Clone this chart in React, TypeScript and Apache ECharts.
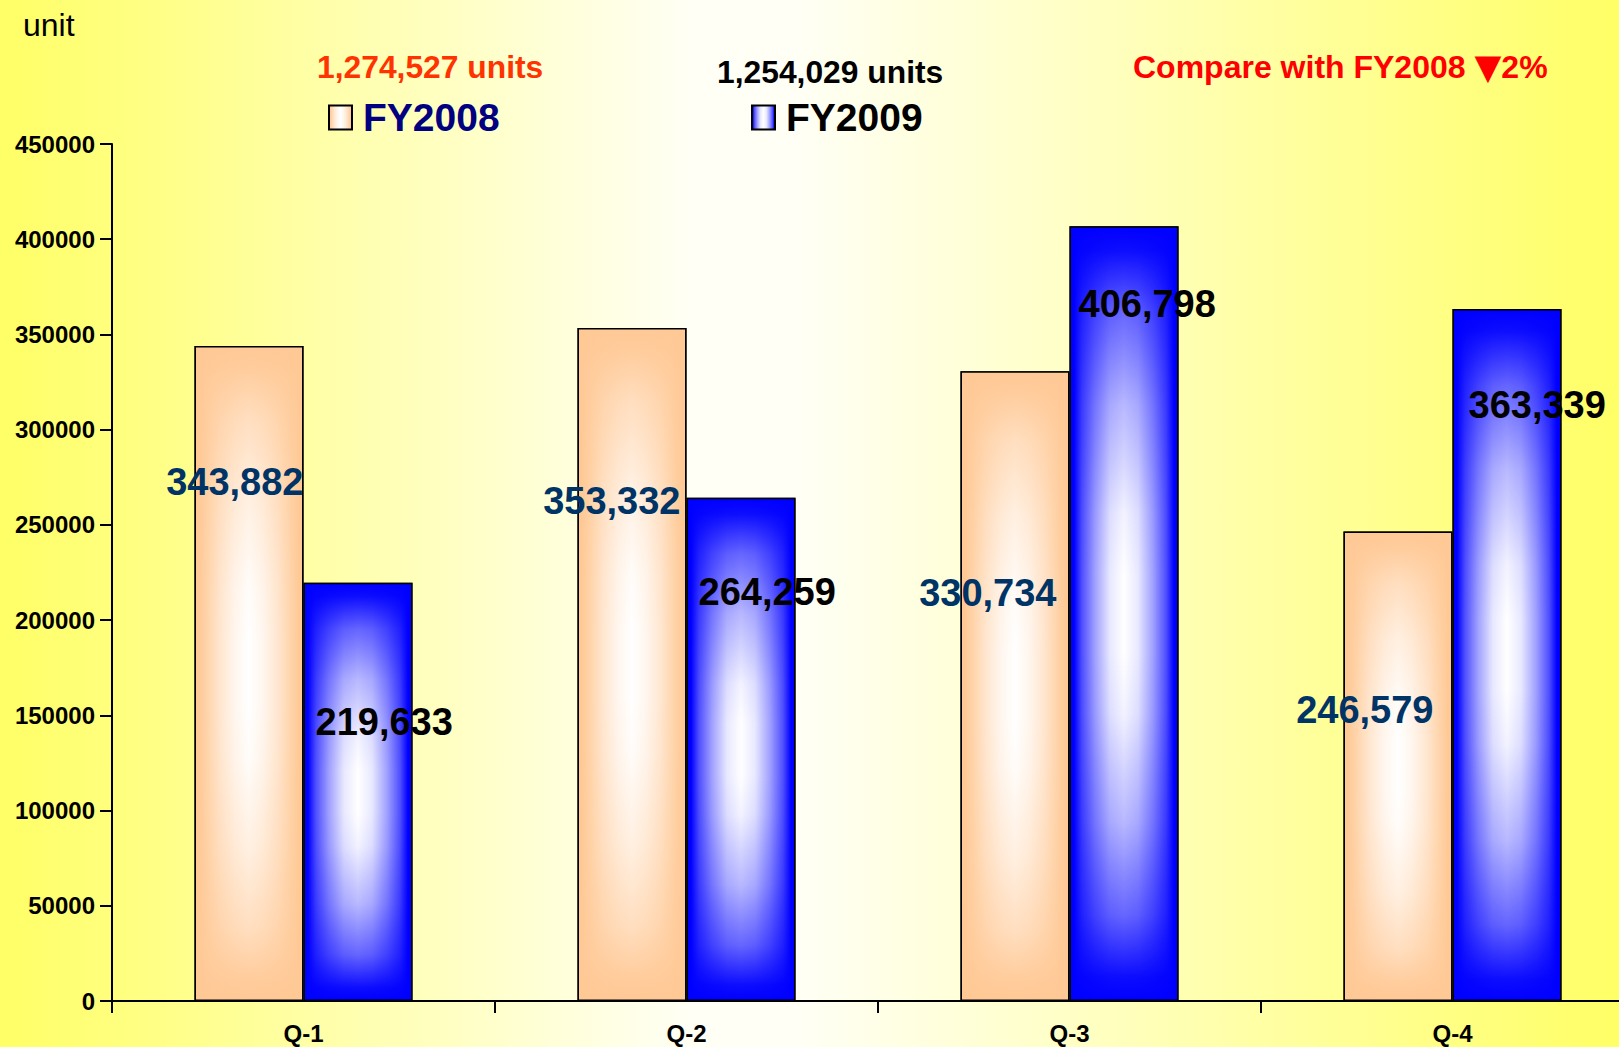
import React, { useEffect, useRef } from 'react';
import * as echarts from 'echarts';

const categories = ['Q-1', 'Q-2', 'Q-3', 'Q-4'];
const seriesNames = ['FY2008', 'FY2009'];
const fy2008 = [343882, 353332, 330734, 246579];
const fy2009 = [219633, 264259, 406798, 363339];
const yMin = 0;
const yMax = 450000;
const yInterval = 50000;
const unitLabel = 'unit';

// label placement (px): distance of label centre below bar top, horizontal nudge
const label2008Dy = [136, 173, 222, 179];
const label2008Dx = [0, -6, -13, -19];
const label2009Dy = [139, 94, 78, 96];
const label2009Dx = [12, 12, 9, 16];

const FONT = '"Liberation Sans", Arial, Helvetica, sans-serif';
const PAGE_W = 1619;
const PAGE_H = 1047;
const CHART_W = 1644; // plot area runs past the right edge of the picture

const fmt = (v: number) => v.toLocaleString('en-US');
const sum = (a: number[]) => a.reduce((s, v) => s + v, 0);

function hexToRgba(hex: string, a: number) {
  const n = parseInt(hex.slice(1), 16);
  return `rgba(${(n >> 16) & 255},${(n >> 8) & 255},${n & 255},${a})`;
}

// horizontal edge -> white -> edge
function horizGradient(edge: string, c1: string, c2: string, c3: string) {
  return new echarts.graphic.LinearGradient(0, 0, 1, 0, [
    { offset: 0, color: edge },
    { offset: 0.035, color: edge },
    { offset: 0.11, color: c1 },
    { offset: 0.23, color: c2 },
    { offset: 0.37, color: c3 },
    { offset: 0.5, color: '#ffffff' },
    { offset: 0.63, color: c3 },
    { offset: 0.77, color: c2 },
    { offset: 0.89, color: c1 },
    { offset: 0.965, color: edge },
    { offset: 1, color: edge },
  ]);
}

// vertical shading: edge colour at top and bottom, clear in the middle
function vertShade(edge: string) {
  return new echarts.graphic.LinearGradient(0, 0, 0, 1, [
    { offset: 0, color: hexToRgba(edge, 1) },
    { offset: 0.03, color: hexToRgba(edge, 0.95) },
    { offset: 0.11, color: hexToRgba(edge, 0.6) },
    { offset: 0.23, color: hexToRgba(edge, 0.28) },
    { offset: 0.37, color: hexToRgba(edge, 0.05) },
    { offset: 0.45, color: hexToRgba(edge, 0) },
    { offset: 0.55, color: hexToRgba(edge, 0) },
    { offset: 0.63, color: hexToRgba(edge, 0.05) },
    { offset: 0.77, color: hexToRgba(edge, 0.28) },
    { offset: 0.89, color: hexToRgba(edge, 0.6) },
    { offset: 0.97, color: hexToRgba(edge, 0.95) },
    { offset: 1, color: hexToRgba(edge, 1) },
  ]);
}

const ORANGE = '#ffc996';
const BLUE = '#0000ff';

export default function App() {
  const ref = useRef<HTMLDivElement>(null);
  useEffect(() => {
    if (!ref.current) return;
    const chart = echarts.init(ref.current, undefined, { renderer: 'svg' });
    const total2008 = sum(fy2008);
    const total2009 = sum(fy2009);
    const change = Math.round((Math.abs(total2009 - total2008) / total2008) * 100);
    const arrow = total2009 < total2008 ? '▼' : '▲';

    const legendCommon = {
      orient: 'horizontal',
      top: 98,
      padding: 0,
      itemWidth: 23,
      itemHeight: 24,
      icon: 'rect',
      selectedMode: false,
      textStyle: { fontSize: 39, fontWeight: 'bold', fontFamily: FONT, padding: [0, 0, 0, 6] },
    };

    const labelCommon = {
      show: true,
      formatter: (p: any) => fmt(p.value),
      verticalAlign: 'middle',
      fontSize: 38,
      fontWeight: 'bold',
      fontFamily: FONT,
    };

    const axisX = (show: boolean) => ({
      type: 'category',
      data: categories,
      show,
      axisLine: { lineStyle: { color: '#000', width: 2 } },
      axisTick: { show: true, length: 12, lineStyle: { color: '#000', width: 2 } },
      axisLabel: { color: '#000', fontSize: 24, fontWeight: 'bold', margin: 20, fontFamily: FONT },
    });

    chart.setOption({
      animation: false,
      backgroundColor: 'transparent',
      textStyle: { fontFamily: FONT },
      grid: { left: 112, right: 0, top: 144, bottom: 46, containLabel: false },
      legend: [
        {
          ...legendCommon,
          left: 328,
          data: [{ name: seriesNames[0], textStyle: { color: '#000080' } }],
        },
        {
          ...legendCommon,
          left: 751,
          data: [{ name: seriesNames[1], textStyle: { color: '#000000' } }],
        },
      ],
      xAxis: [axisX(true), axisX(false)],
      yAxis: {
        type: 'value',
        min: yMin,
        max: yMax,
        interval: yInterval,
        axisLine: { show: true, lineStyle: { color: '#000', width: 2 } },
        axisTick: { show: true, length: 12, lineStyle: { color: '#000', width: 2 } },
        axisLabel: {
          color: '#000',
          fontSize: 24,
          fontWeight: 'bold',
          margin: 17,
          fontFamily: FONT,
          formatter: (v: number) => String(v),
        },
        splitLine: { show: false },
      },
      series: [
        {
          name: seriesNames[0],
          type: 'bar',
          xAxisIndex: 0,
          barWidth: 109,
          barGap: '0%',
          itemStyle: {
            color: horizGradient(ORANGE, '#ffd4aa', '#ffe6cf', '#fff6ee'),
            borderColor: '#000',
            borderWidth: 1.5,
          },
          data: fy2008,
        },
        {
          name: seriesNames[1],
          type: 'bar',
          xAxisIndex: 0,
          barWidth: 109,
          barGap: '0%',
          itemStyle: {
            color: horizGradient(BLUE, '#5050ff', '#a0a0ff', '#e8e8ff'),
            borderColor: '#000',
            borderWidth: 1.5,
          },
          data: fy2009,
        },
        {
          name: seriesNames[0] + ' shade',
          type: 'bar',
          xAxisIndex: 1,
          barWidth: 109,
          barGap: '0%',
          silent: true,
          itemStyle: { color: vertShade(ORANGE), borderColor: '#000', borderWidth: 1.5 },
          label: { ...labelCommon, align: 'right', color: '#003366' },
          data: fy2008.map((v, i) => ({
            value: v,
            label: { position: ['100%', label2008Dy[i]], offset: [label2008Dx[i], 0] },
          })),
        },
        {
          name: seriesNames[1] + ' shade',
          type: 'bar',
          xAxisIndex: 1,
          barWidth: 109,
          barGap: '0%',
          silent: true,
          itemStyle: { color: vertShade(BLUE), borderColor: '#000', borderWidth: 1.5 },
          label: { ...labelCommon, align: 'left', color: '#000000' },
          data: fy2009.map((v, i) => ({
            value: v,
            label: { position: [0, label2009Dy[i]], offset: [label2009Dx[i], 0] },
          })),
        },
      ],
      graphic: [
        {
          type: 'text',
          x: 23,
          y: 25,
          style: { text: unitLabel, fill: '#000', fontSize: 32, fontFamily: FONT, align: 'left', verticalAlign: 'middle' },
        },
        {
          type: 'text',
          x: 317,
          y: 67,
          style: {
            text: `${fmt(total2008)} units`,
            fill: '#ff3300',
            fontSize: 31.8,
            fontWeight: 'bold',
            fontFamily: FONT,
            align: 'left',
            verticalAlign: 'middle',
          },
        },
        {
          type: 'text',
          x: 717,
          y: 72,
          style: {
            text: `${fmt(total2009)} units`,
            fill: '#000',
            fontSize: 31.8,
            fontWeight: 'bold',
            fontFamily: FONT,
            align: 'left',
            verticalAlign: 'middle',
          },
        },
        {
          type: 'text',
          x: 1133,
          y: 67,
          style: {
            text: `Compare with ${seriesNames[0]} {a|${arrow}}${change}%`,
            fill: '#ff0000',
            fontSize: 32,
            fontWeight: 'bold',
            fontFamily: FONT,
            align: 'left',
            verticalAlign: 'middle',
            rich: {
              a: { fontSize: 35, fontFamily: '"DejaVu Sans", sans-serif', fill: '#ff0000', fontWeight: 'bold' },
            },
          },
        },
      ],
    });
    return () => chart.dispose();
  }, []);
  return (
    <div
      style={{
        position: 'fixed',
        left: 0,
        top: 0,
        width: PAGE_W,
        height: PAGE_H,
        overflow: 'hidden',
        background:
          'linear-gradient(to right, #ffff66 0%, #fffff6 43%, #fffff6 49%, #ffff66 100%)',
      }}
    >
      <div ref={ref} style={{ position: 'absolute', left: 0, top: 0, width: CHART_W, height: PAGE_H }} />
    </div>
  );
}
